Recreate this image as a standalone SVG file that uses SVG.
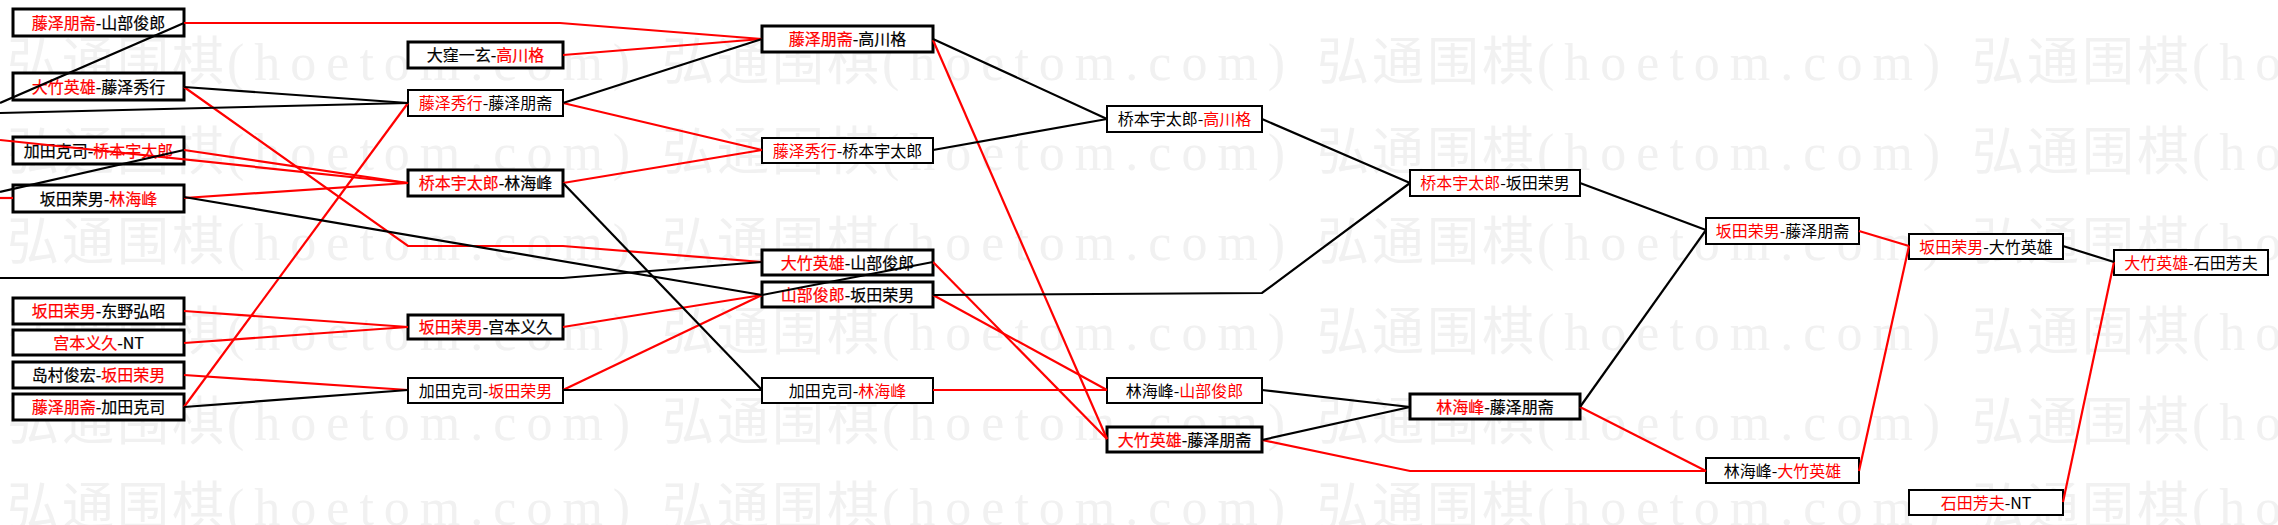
<svg xmlns="http://www.w3.org/2000/svg" width="2278" height="525" viewBox="0 0 2278 525">
<style>
.bg{fill:#ffffff}
.wm{font-family:"Noto Sans CJK SC",sans-serif;font-size:52px;fill:#f1f1f1;letter-spacing:3px}
.wl{font-family:"Liberation Serif",serif;font-size:52px;letter-spacing:10px}
.box{fill:#ffffff;stroke:#000000;stroke-width:3}
.thin{stroke-width:2}
.t{font-family:"Noto Sans CJK SC","Noto Sans",sans-serif;font-size:16px;fill:#000000;text-anchor:middle}
.b{stroke:#000000;stroke-width:0.22}
.r{fill:#ff0000}
.b .r{stroke:#ff0000}
.cr{fill:none;stroke:#ff0000;stroke-width:2.2}
.cb{fill:none;stroke:#000000;stroke-width:2.2}
</style>
<rect class="bg" x="0" y="0" width="2278" height="525"/>
<g id="watermark">
<text class="wm" x="7" y="80">弘通围棋<tspan class="wl">(hoetom.com)</tspan></text>
<text class="wm" x="662" y="80">弘通围棋<tspan class="wl">(hoetom.com)</tspan></text>
<text class="wm" x="1317" y="80">弘通围棋<tspan class="wl">(hoetom.com)</tspan></text>
<text class="wm" x="1972" y="80">弘通围棋<tspan class="wl">(hoetom.com)</tspan></text>
<text class="wm" x="7" y="170">弘通围棋<tspan class="wl">(hoetom.com)</tspan></text>
<text class="wm" x="662" y="170">弘通围棋<tspan class="wl">(hoetom.com)</tspan></text>
<text class="wm" x="1317" y="170">弘通围棋<tspan class="wl">(hoetom.com)</tspan></text>
<text class="wm" x="1972" y="170">弘通围棋<tspan class="wl">(hoetom.com)</tspan></text>
<text class="wm" x="7" y="260">弘通围棋<tspan class="wl">(hoetom.com)</tspan></text>
<text class="wm" x="662" y="260">弘通围棋<tspan class="wl">(hoetom.com)</tspan></text>
<text class="wm" x="1317" y="260">弘通围棋<tspan class="wl">(hoetom.com)</tspan></text>
<text class="wm" x="1972" y="260">弘通围棋<tspan class="wl">(hoetom.com)</tspan></text>
<text class="wm" x="7" y="350">弘通围棋<tspan class="wl">(hoetom.com)</tspan></text>
<text class="wm" x="662" y="350">弘通围棋<tspan class="wl">(hoetom.com)</tspan></text>
<text class="wm" x="1317" y="350">弘通围棋<tspan class="wl">(hoetom.com)</tspan></text>
<text class="wm" x="1972" y="350">弘通围棋<tspan class="wl">(hoetom.com)</tspan></text>
<text class="wm" x="7" y="440">弘通围棋<tspan class="wl">(hoetom.com)</tspan></text>
<text class="wm" x="662" y="440">弘通围棋<tspan class="wl">(hoetom.com)</tspan></text>
<text class="wm" x="1317" y="440">弘通围棋<tspan class="wl">(hoetom.com)</tspan></text>
<text class="wm" x="1972" y="440">弘通围棋<tspan class="wl">(hoetom.com)</tspan></text>
<text class="wm" x="7" y="525">弘通围棋<tspan class="wl">(hoetom.com)</tspan></text>
<text class="wm" x="662" y="525">弘通围棋<tspan class="wl">(hoetom.com)</tspan></text>
<text class="wm" x="1317" y="525">弘通围棋<tspan class="wl">(hoetom.com)</tspan></text>
<text class="wm" x="1972" y="525">弘通围棋<tspan class="wl">(hoetom.com)</tspan></text>
</g>
<g id="nodes">
<g id="n1"><rect class="box" x="13" y="9" width="171" height="27"/><text class="t b" x="98.5" y="28.5"><tspan class="r">藤泽朋斋</tspan>-山部俊郎</text></g>
<g id="n2"><rect class="box" x="13" y="73" width="171" height="27"/><text class="t b" x="98.5" y="92.5"><tspan class="r">大竹英雄</tspan>-藤泽秀行</text></g>
<g id="n3"><rect class="box" x="13" y="137" width="171" height="27"/><text class="t b" x="98.5" y="156.5">加田克司-<tspan class="r">桥本宇太郎</tspan></text></g>
<g id="n4"><rect class="box" x="13" y="185" width="171" height="27"/><text class="t b" x="98.5" y="204.5">坂田荣男-<tspan class="r">林海峰</tspan></text></g>
<g id="n5"><rect class="box" x="13" y="298" width="171" height="26"/><text class="t b" x="98.5" y="317"><tspan class="r">坂田荣男</tspan>-东野弘昭</text></g>
<g id="n6"><rect class="box" x="13" y="330" width="171" height="25"/><text class="t b" x="98.5" y="348.5"><tspan class="r">宫本义久</tspan>-NT</text></g>
<g id="n7"><rect class="box" x="13" y="362" width="171" height="26"/><text class="t b" x="98.5" y="381">岛村俊宏-<tspan class="r">坂田荣男</tspan></text></g>
<g id="n8"><rect class="box" x="13" y="394" width="171" height="26"/><text class="t b" x="98.5" y="413"><tspan class="r">藤泽朋斋</tspan>-加田克司</text></g>
<g id="n9"><rect class="box" x="408" y="42" width="155" height="26"/><text class="t b" x="485.5" y="61">大窪一玄-<tspan class="r">高川格</tspan></text></g>
<g id="n10"><rect class="box thin" x="408" y="90" width="155" height="26"/><text class="t" x="485.5" y="109"><tspan class="r">藤泽秀行</tspan>-藤泽朋斋</text></g>
<g id="n11"><rect class="box" x="408" y="170" width="155" height="26"/><text class="t b" x="485.5" y="189"><tspan class="r">桥本宇太郎</tspan>-林海峰</text></g>
<g id="n12"><rect class="box" x="408" y="315" width="155" height="24"/><text class="t b" x="485.5" y="333"><tspan class="r">坂田荣男</tspan>-宫本义久</text></g>
<g id="n13"><rect class="box thin" x="408" y="378" width="155" height="25"/><text class="t" x="485.5" y="396.5">加田克司-<tspan class="r">坂田荣男</tspan></text></g>
<g id="n14"><rect class="box" x="762" y="26" width="171" height="26"/><text class="t b" x="847.5" y="45"><tspan class="r">藤泽朋斋</tspan>-高川格</text></g>
<g id="n15"><rect class="box thin" x="762" y="138" width="171" height="25"/><text class="t" x="847.5" y="156.5"><tspan class="r">藤泽秀行</tspan>-桥本宇太郎</text></g>
<g id="n16"><rect class="box" x="762" y="250" width="171" height="25"/><text class="t b" x="847.5" y="268.5"><tspan class="r">大竹英雄</tspan>-山部俊郎</text></g>
<g id="n17"><rect class="box" x="762" y="282" width="171" height="25"/><text class="t b" x="847.5" y="300.5"><tspan class="r">山部俊郎</tspan>-坂田荣男</text></g>
<g id="n18"><rect class="box thin" x="762" y="378" width="171" height="25"/><text class="t" x="847.5" y="396.5">加田克司-<tspan class="r">林海峰</tspan></text></g>
<g id="n19"><rect class="box thin" x="1107" y="106" width="155" height="26"/><text class="t" x="1184.5" y="125">桥本宇太郎-<tspan class="r">高川格</tspan></text></g>
<g id="n20"><rect class="box thin" x="1107" y="378" width="155" height="25"/><text class="t" x="1184.5" y="396.5">林海峰-<tspan class="r">山部俊郎</tspan></text></g>
<g id="n21"><rect class="box" x="1107" y="427" width="155" height="25"/><text class="t b" x="1184.5" y="445.5"><tspan class="r">大竹英雄</tspan>-藤泽朋斋</text></g>
<g id="n22"><rect class="box thin" x="1410" y="170" width="170" height="26"/><text class="t" x="1495" y="189"><tspan class="r">桥本宇太郎</tspan>-坂田荣男</text></g>
<g id="n23"><rect class="box" x="1410" y="394" width="170" height="25"/><text class="t b" x="1495" y="412.5"><tspan class="r">林海峰</tspan>-藤泽朋斋</text></g>
<g id="n24"><rect class="box thin" x="1706" y="218" width="153" height="26"/><text class="t" x="1782.5" y="237"><tspan class="r">坂田荣男</tspan>-藤泽朋斋</text></g>
<g id="n25"><rect class="box thin" x="1706" y="458" width="153" height="25"/><text class="t" x="1782.5" y="476.5">林海峰-<tspan class="r">大竹英雄</tspan></text></g>
<g id="n26"><rect class="box thin" x="1909" y="234" width="154" height="25"/><text class="t" x="1986" y="252.5"><tspan class="r">坂田荣男</tspan>-大竹英雄</text></g>
<g id="n27"><rect class="box thin" x="1909" y="490" width="154" height="25"/><text class="t" x="1986" y="508.5"><tspan class="r">石田芳夫</tspan>-NT</text></g>
<g id="n28"><rect class="box thin" x="2114" y="250" width="154" height="25"/><text class="t" x="2191" y="268.5"><tspan class="r">大竹英雄</tspan>-石田芳夫</text></g>
</g>
<g id="connectors">
<polyline class="cr" points="184,23 560,23 762,39"/>
<polyline class="cr" points="563,55 762,39"/>
<polyline class="cr" points="184,87 408,246 563,246 762,262"/>
<polyline class="cr" points="0,140 408,183"/>
<polyline class="cr" points="184,150 408,183"/>
<polyline class="cr" points="0,198 13,198"/>
<polyline class="cr" points="184,198 408,183"/>
<polyline class="cr" points="184,311 408,327"/>
<polyline class="cr" points="184,343 408,327"/>
<polyline class="cr" points="184,375 408,390"/>
<polyline class="cr" points="184,407 408,103"/>
<polyline class="cr" points="563,103 762,150"/>
<polyline class="cr" points="563,183 762,150"/>
<polyline class="cr" points="563,327 762,295"/>
<polyline class="cr" points="563,390 762,295"/>
<polyline class="cr" points="933,40 1107,439"/>
<polyline class="cr" points="933,262 1107,439"/>
<polyline class="cr" points="933,295 1107,390"/>
<polyline class="cr" points="933,390 1107,390"/>
<polyline class="cr" points="1262,440 1410,471 1706,471"/>
<polyline class="cr" points="1580,407 1706,471"/>
<polyline class="cr" points="1859,231 1909,246"/>
<polyline class="cr" points="1859,471 1909,246"/>
<polyline class="cr" points="2063,502 2114,262"/>
<polyline class="cb" points="0,103 184,23"/>
<polyline class="cb" points="0,113 408,103"/>
<polyline class="cb" points="184,87 408,103"/>
<polyline class="cb" points="0,192 184,150"/>
<polyline class="cb" points="184,197 762,295"/>
<polyline class="cb" points="0,278 563,278 762,262"/>
<polyline class="cb" points="184,407 408,390"/>
<polyline class="cb" points="563,103 762,39"/>
<polyline class="cb" points="563,183 762,390"/>
<polyline class="cb" points="563,390 762,390"/>
<polyline class="cb" points="933,262 762,295"/>
<polyline class="cb" points="933,39 1107,119"/>
<polyline class="cb" points="933,150 1107,119"/>
<polyline class="cb" points="933,295 1262,293 1410,183"/>
<polyline class="cb" points="1262,119 1410,183"/>
<polyline class="cb" points="1262,390 1410,407"/>
<polyline class="cb" points="1262,440 1410,407"/>
<polyline class="cb" points="1580,183 1706,230"/>
<polyline class="cb" points="1580,407 1706,230"/>
<polyline class="cb" points="2063,246 2114,262"/>
</g>
</svg>
